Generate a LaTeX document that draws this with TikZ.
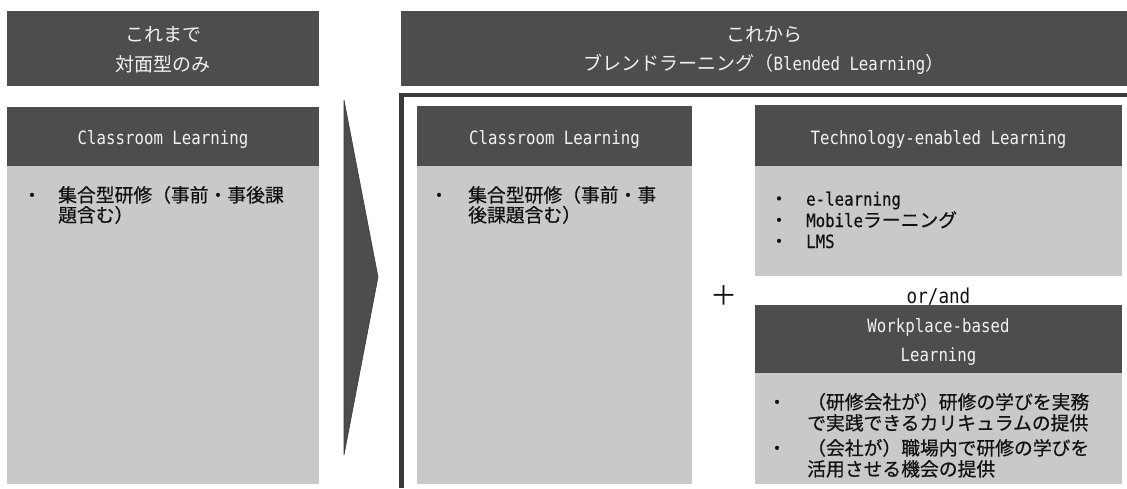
\documentclass[tikz,border=0pt]{standalone}
\usepackage{fontspec}
\setmainfont{Noto Sans CJK JP}
\newfontfamily\lat[FakeStretch=0.86]{DejaVu Sans Mono}
\newfontfamily\bodyjp[FakeBold=0.5]{Noto Sans CJK JP}
\newfontfamily\bodylat[FakeStretch=0.86,FakeBold=0.5]{DejaVu Sans Mono}
\definecolor{hdrgray}{HTML}{4D4D4D}
\definecolor{bodygray}{HTML}{C9C9C9}
\definecolor{framegray}{HTML}{3A3A3A}
\definecolor{hdrtext}{HTML}{F2F2F2}
\definecolor{bodytext}{HTML}{111111}
\begin{document}
\begin{tikzpicture}[x=1pt,y=-1pt,
  box/.style={anchor=north west, inner sep=0pt, outer sep=0pt, draw=none},
  hdrbox/.style={box, fill=hdrgray},
  bodybox/.style={box, fill=bodygray},
  htxt/.style={anchor=base, inner sep=0pt, text=hdrtext, font=\fontsize{19}{23}\selectfont},
  hlat/.style={anchor=base, inner sep=0pt, text=hdrtext, font=\lat\fontsize{18.3}{22}\selectfont},
  btxt/.style={anchor=base west, inner sep=0pt, text=bodytext, font=\bodyjp\fontsize{18.8}{23}\selectfont},
  blat/.style={anchor=base west, inner sep=0pt, text=bodytext, font=\bodylat\fontsize{18.3}{22}\selectfont},
  bul/.style={anchor=base, inner sep=0pt, text=bodytext, font=\bodyjp\fontsize{18.8}{23}\selectfont},
]
\useasboundingbox (0,0) rectangle (1127,488);

% headers
\node[hdrbox, minimum width=312pt, minimum height=75pt] (hdrL) at (7,11) {};
\node[hdrbox, minimum width=726pt, minimum height=75pt] (hdrR) at (401,11) {};
\node[htxt] (hL1) at (163,41) {これまで};
\node[htxt] (hL2) at (163,71) {対面型のみ};
\node[htxt] (hR1) at (764,41) {これから};
\node[htxt] (hR2) at (764,70) {ブレンドラーニング（{\lat\fontsize{18.3}{22}\selectfont Blended Learning}）};

% frame
\draw[line width=4.5pt, framegray] (401.5,488) -- (401.5,95) -- (1127,95);

% chevron
\fill[hdrgray, draw=framegray, line width=0.6pt] (344,100) -- (378,277) -- (344,455) -- cycle;

% left classroom
\node[hdrbox, minimum width=312pt, minimum height=59pt] (clsLh) at (7,107) {};
\node[bodybox, minimum width=312pt, minimum height=318pt] (clsLb) at (7,166) {};
\node[hlat] (clsLt) at (163,144) {Classroom Learning};
\node[bul] (bL1) at (32,202) {・};
\node[btxt] (tL1) at (58,202) {集合型研修（事前・事後課};
\node[btxt] (tL2) at (58,222) {題含む）};

% middle classroom
\node[hdrbox, minimum width=275pt, minimum height=60pt] (clsMh) at (417,106) {};
\node[bodybox, minimum width=275pt, minimum height=318pt] (clsMb) at (417,166) {};
\node[hlat] (clsMt) at (554.5,144) {Classroom Learning};
\node[bul] (bM1) at (439,202) {・};
\node[btxt] (tM1) at (468,202) {集合型研修（事前・事};
\node[btxt] (tM2) at (468,222) {後課題含む）};

% technology
\node[hdrbox, minimum width=367pt, minimum height=61pt] (techh) at (755,105) {};
\node[bodybox, minimum width=367pt, minimum height=110pt] (techb) at (755,166) {};
\node[hlat] (techt) at (938.5,144) {Technology-enabled Learning};
\node[bul] (bT1) at (779,205.5) {・};
\node[bul] (bT2) at (779,227) {・};
\node[bul] (bT3) at (779,248) {・};
\node[blat] (tT1) at (806,205.5) {e-learning};
\node[blat] (tT2) at (806,227) {Mobile{\bodyjp\fontsize{18.8}{23}\selectfont ラーニング}};
\node[blat] (tT3) at (806,248) {LMS};

% plus and or/and
\node[inner sep=0pt, text=bodytext, font=\fontsize{27}{30}\selectfont] (plus) at (724,296) {＋};
\node[anchor=base, inner sep=0pt, text=bodytext, font=\lat\fontsize{20.5}{24}\selectfont] (orand) at (938.5,303) {or/and};

% workplace
\node[hdrbox, minimum width=367pt, minimum height=68pt] (workh) at (755,305) {};
\node[bodybox, minimum width=367pt, minimum height=111pt] (workb) at (755,373) {};
\node[hlat] (workt1) at (938.5,332) {Workplace-based};
\node[hlat] (workt2) at (938.5,361) {Learning};
\node[bul] (bW1) at (777,409) {・};
\node[bul] (bW2) at (777,455) {・};
\node[btxt] (tW1) at (807,409) {（研修会社が）研修の学びを実務};
\node[btxt] (tW2) at (807,430) {で実践できるカリキュラムの提供};
\node[btxt] (tW3) at (807,455) {（会社が）職場内で研修の学びを};
\node[btxt] (tW4) at (807,476) {活用させる機会の提供};
\end{tikzpicture}
\end{document}
